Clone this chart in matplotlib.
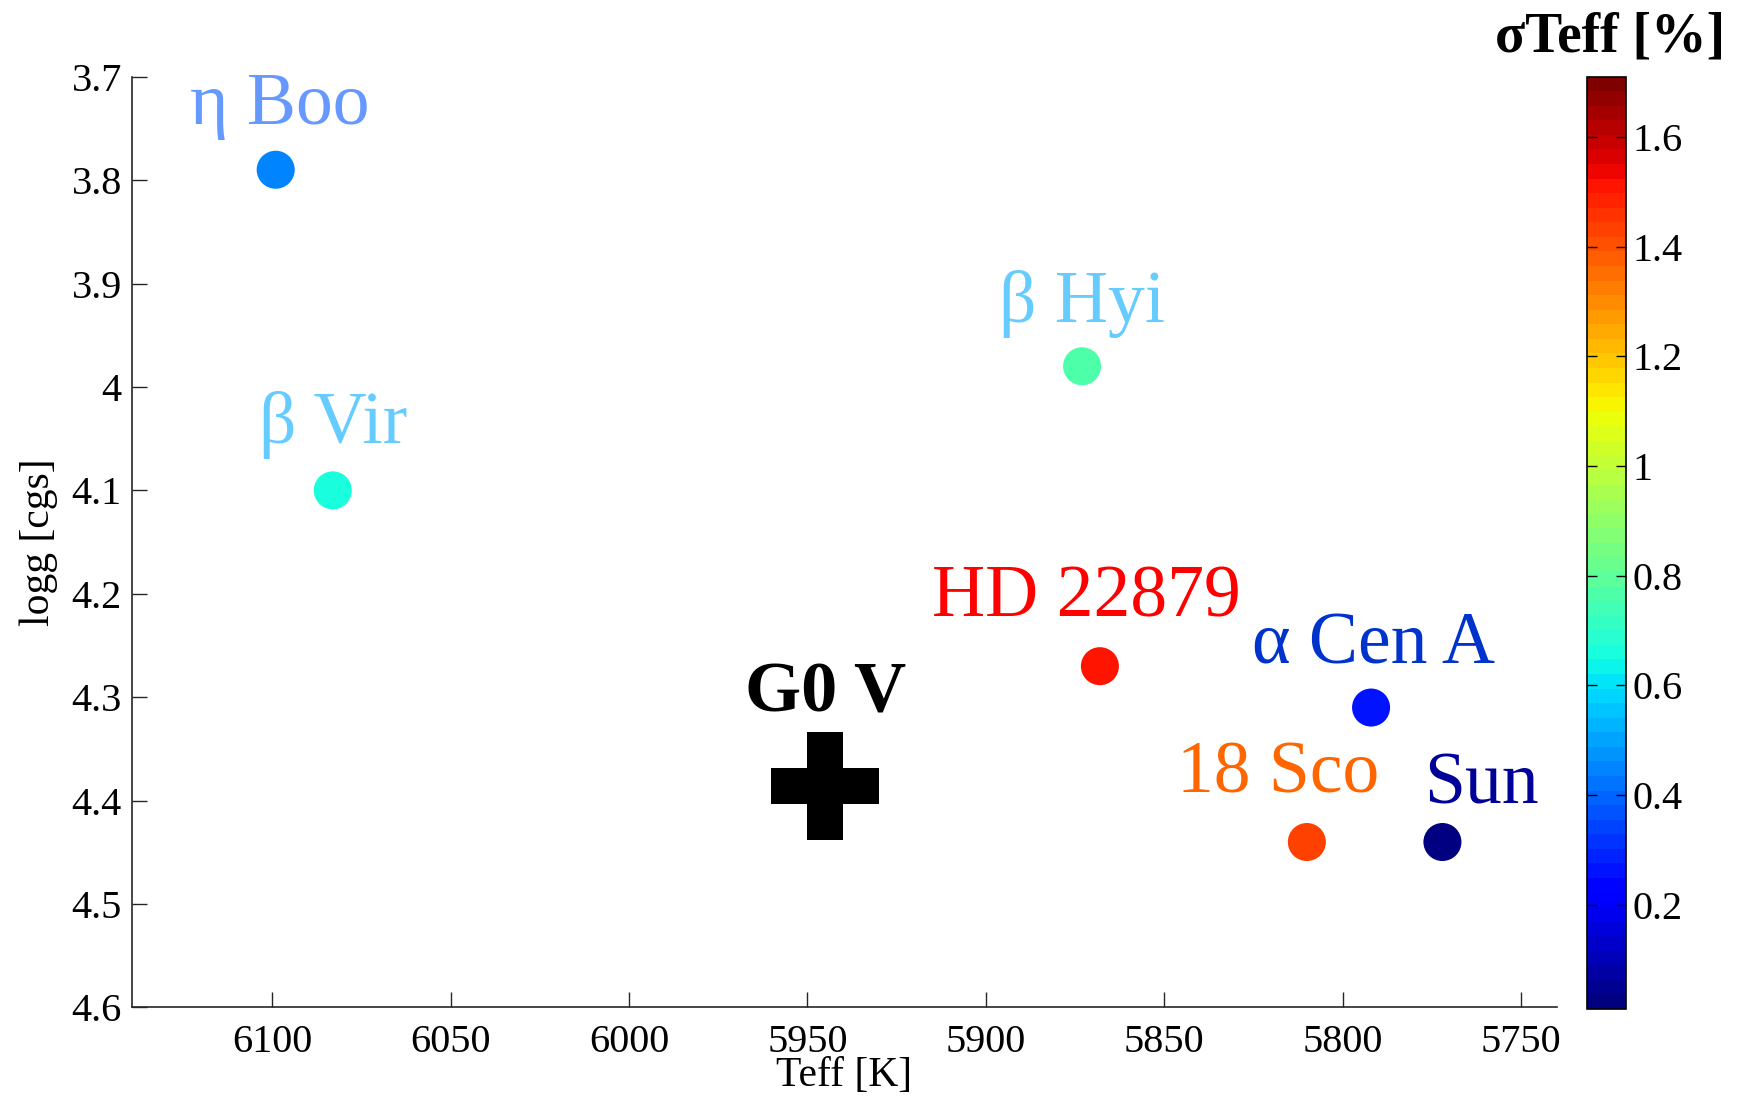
from matplotlib import pyplot as plt
import matplotlib
import numpy as np

plt.rcParams['font.family'] = ['Liberation Serif', 'DejaVu Serif']

# star data
names = ["η Boo", "β Vir", "β Hyi", "HD 22879", "α Cen A", "18 Sco", "Sun"]
teff = [6099, 6083, 5873, 5868, 5792, 5810, 5772]
logg = [3.79, 4.10, 3.98, 4.27, 4.31, 4.44, 4.44]
sigma_teff = [0.455, 0.665, 0.767, 1.50, 0.27, 1.43, 0.03]
label_colors = ["#6699ff", "#66ccff", "#66ccff", "#ff0000", "#0033cc", "#ff6600", "#000099"]

g0v_teff = 5945
g0v_logg = 4.386

# colour scale limits of the colorbar
sig_min, sig_max = 0.01, 1.71

x_ticks = [6100, 6050, 6000, 5950, 5900, 5850, 5800, 5750]
y_ticks = [3.7, 3.8, 3.9, 4.0, 4.1, 4.2, 4.3, 4.4, 4.5, 4.6]
y_ticklabels = ["3.7", "3.8", "3.9", "4", "4.1", "4.2", "4.3", "4.4", "4.5", "4.6"]
cb_ticks = [0.2, 0.4, 0.6, 0.8, 1.0, 1.2, 1.4, 1.6]
cb_ticklabels = ["0.2", "0.4", "0.6", "0.8", "1", "1.2", "1.4", "1.6"]

# label offsets (points) from each star
label_offsets = [(3, 33), (0, 34), (0, 32), (-10, 36), (2, 32), (-21, 36), (28, 28)]

########################################################################################################################
def plot_hr():
    fig = plt.figure(figsize=(17.4, 11.03), dpi=100)
    ax = fig.add_axes([0.0756, 0.0866, 0.819, 0.8439])
    cax = fig.add_axes([0.9119, 0.0852, 0.0226, 0.8453])

    cmap = matplotlib.colormaps['jet'].resampled(64)
    sc = ax.scatter(teff, logg, c=sigma_teff, cmap=cmap, vmin=sig_min, vmax=sig_max,
                    s=750, edgecolors='none', zorder=3)

    ax.plot([g0v_teff], [g0v_logg], marker='P', markersize=78, color='k',
            markeredgewidth=0, linestyle='none', zorder=3)
    ax.annotate("G0 V", (g0v_teff, g0v_logg), xytext=(0, 54), textcoords='offset points',
                ha='center', va='baseline', fontsize=52, fontweight='bold', color='k')

    for name, t, g, col, off in zip(names, teff, logg, label_colors, label_offsets):
        ax.annotate(name, (t, g), xytext=off, textcoords='offset points',
                    ha='center', va='baseline', fontsize=53, color=col)

    ax.set_xlim(6139.4, 5740)
    ax.set_ylim(4.6, 3.7)
    ax.set_xticks(x_ticks)
    ax.set_yticks(y_ticks)
    ax.set_yticklabels(y_ticklabels)

    for side in ['top', 'right']:
        ax.spines[side].set_visible(False)
    for side in ['left', 'bottom']:
        ax.spines[side].set_color('#262626')
        ax.spines[side].set_linewidth(1.2)

    ax.tick_params(axis='both', direction='in', length=11, width=1, color='#262626', labelsize=29)
    ax.tick_params(axis='y', pad=7)
    ax.tick_params(axis='x', pad=12)

    ax.set_xlabel("Teff [K]", fontsize=30, labelpad=-3)
    ax.set_ylabel("logg [cgs]", fontsize=30, labelpad=10)

    cb = fig.colorbar(sc, cax=cax)
    cb.set_ticks(cb_ticks)
    cb.set_ticklabels(cb_ticklabels)
    cb.outline.set_linewidth(1.2)
    cax.tick_params(direction='in', left=True, right=True, length=7, width=1, labelsize=29, pad=5)
    cax.set_title("σTeff [%]", fontsize=40, fontweight='bold', pad=18, x=0.6)

    plt.savefig("out.png", dpi=100)
    plt.close()


########################################################################################################################
if __name__ == "__main__":
    plot_hr()
